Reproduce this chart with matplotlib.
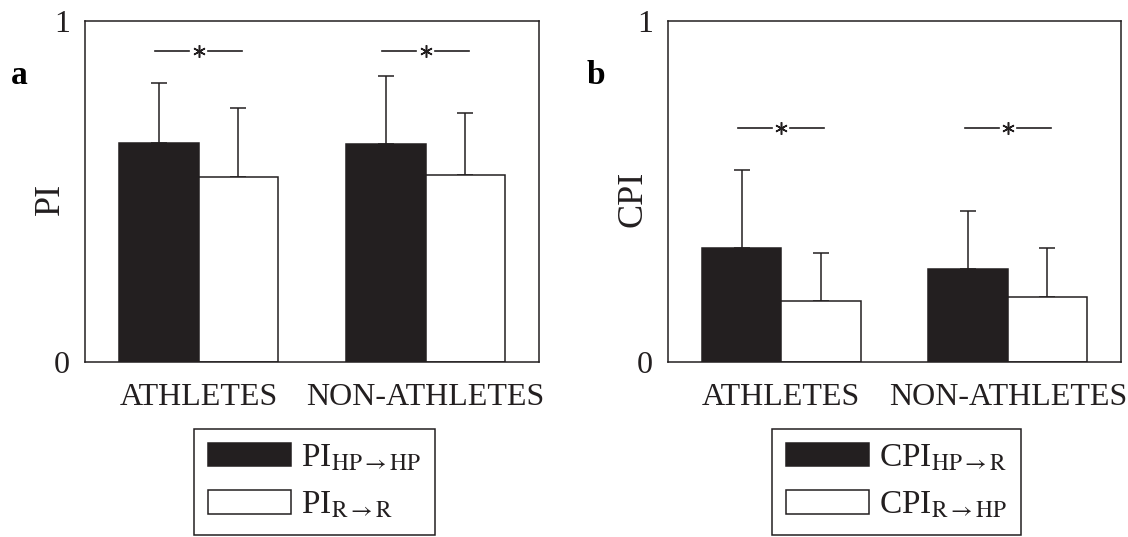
import matplotlib
matplotlib.use("Agg")
import matplotlib.pyplot as plt
from matplotlib.patches import Patch
import numpy as np

plt.rcParams['font.family'] = ['Liberation Serif', 'DejaVu Serif']
plt.rcParams['mathtext.fontset'] = 'stix'

INK = '#231f20'

groups = ['ATHLETES', 'NON-ATHLETES']

# panel a: PI
pi_hp_hp = [0.642, 0.639]
pi_hp_hp_sd = [0.175, 0.201]
pi_r_r = [0.543, 0.547]
pi_r_r_sd = [0.202, 0.183]
pi_sig_y = 0.913

# panel b: CPI
cpi_hp_r = [0.334, 0.273]
cpi_hp_r_sd = [0.228, 0.171]
cpi_r_hp = [0.180, 0.191]
cpi_r_hp_sd = [0.141, 0.143]
cpi_sig_y = 0.687

BAR_W = 0.7
FS = 23


def draw_panel(ax, dark, dark_sd, light, light_sd, sig_y, ylabel):
    x = np.arange(len(groups)) * 2.0
    ax.bar(x - BAR_W / 2, dark, BAR_W, color=INK, edgecolor=INK, lw=1.1, zorder=2)
    ax.bar(x + BAR_W / 2, light, BAR_W, color='white', edgecolor=INK, lw=1.1, zorder=2)
    ekw = dict(fmt='none', ecolor=INK, elinewidth=1.1, capsize=6, capthick=1.1, zorder=1)
    ax.errorbar(x - BAR_W / 2, dark, yerr=[np.zeros(len(dark)), dark_sd], **ekw)
    ax.errorbar(x + BAR_W / 2, light, yerr=[np.zeros(len(light)), light_sd], **ekw)

    # significance marks: line - * - line
    for xc in x:
        ax.plot([xc - 0.38, xc - 0.08], [sig_y, sig_y], color=INK, lw=1.2)
        ax.plot([xc + 0.08, xc + 0.38], [sig_y, sig_y], color=INK, lw=1.2)
        ax.plot([xc], [sig_y], marker=(6, 2, 0), ms=9, mew=1.1, color=INK)

    ax.set_xlim(-1, 3)
    ax.set_ylim(0, 1)
    ax.set_yticks([0, 1])
    ax.set_yticklabels(['0', '1'])
    ax.set_xticks(x)
    ax.set_xticklabels(groups)
    ax.tick_params(axis='both', length=0, labelsize=FS, colors=INK)
    ax.tick_params(axis='y', pad=11)
    ax.tick_params(axis='x', pad=15)
    for s in ax.spines.values():
        s.set_linewidth(1.1)
        s.set_color(INK)
    ax.set_ylabel(ylabel, fontsize=26, color=INK)
    ax.yaxis.set_label_coords(-0.04, 0.478)


fig = plt.figure(figsize=(11.28, 5.37), dpi=100)
ax_a = fig.add_axes([0.0754, 0.3259, 0.4025, 0.635])
ax_b = fig.add_axes([0.5922, 0.3259, 0.4016, 0.635])

draw_panel(ax_a, pi_hp_hp, pi_hp_hp_sd, pi_r_r, pi_r_r_sd, pi_sig_y, 'PI')
draw_panel(ax_b, cpi_hp_r, cpi_hp_r_sd, cpi_r_hp, cpi_r_hp_sd, cpi_sig_y, 'CPI')

fig.text(11 / 1128, 1 - 84 / 537, 'a', fontsize=24, fontweight='bold', ha='left', va='baseline')
fig.text(587 / 1128, 1 - 84 / 537, 'b', fontsize=24, fontweight='bold', ha='left', va='baseline')


def add_legend(ax, labels, left_px):
    handles = [Patch(facecolor=INK, edgecolor=INK, lw=1.1),
               Patch(facecolor='white', edgecolor=INK, lw=1.1)]
    leg = ax.legend(handles, labels, loc='upper left',
                    bbox_to_anchor=(left_px / 1128, 1 - 429 / 537),
                    bbox_transform=fig.transFigure, borderaxespad=0,
                    fontsize=24, handlelength=2.5, handleheight=0.69,
                    handletextpad=0.3, borderpad=0.42, labelspacing=0.5,
                    fancybox=False, framealpha=1, edgecolor=INK)
    leg.get_frame().set_linewidth(1.1)
    for t in leg.get_texts():
        t.set_color(INK)


add_legend(ax_a, [r'PI$_{\mathrm{HP}\rightarrow\mathrm{HP}}$',
                  r'PI$_{\mathrm{R}\rightarrow\mathrm{R}}$'], 194)
add_legend(ax_b, [r'CPI$_{\mathrm{HP}\rightarrow\mathrm{R}}$',
                  r'CPI$_{\mathrm{R}\rightarrow\mathrm{HP}}$'], 772)

fig.savefig('out.png', dpi=100)
